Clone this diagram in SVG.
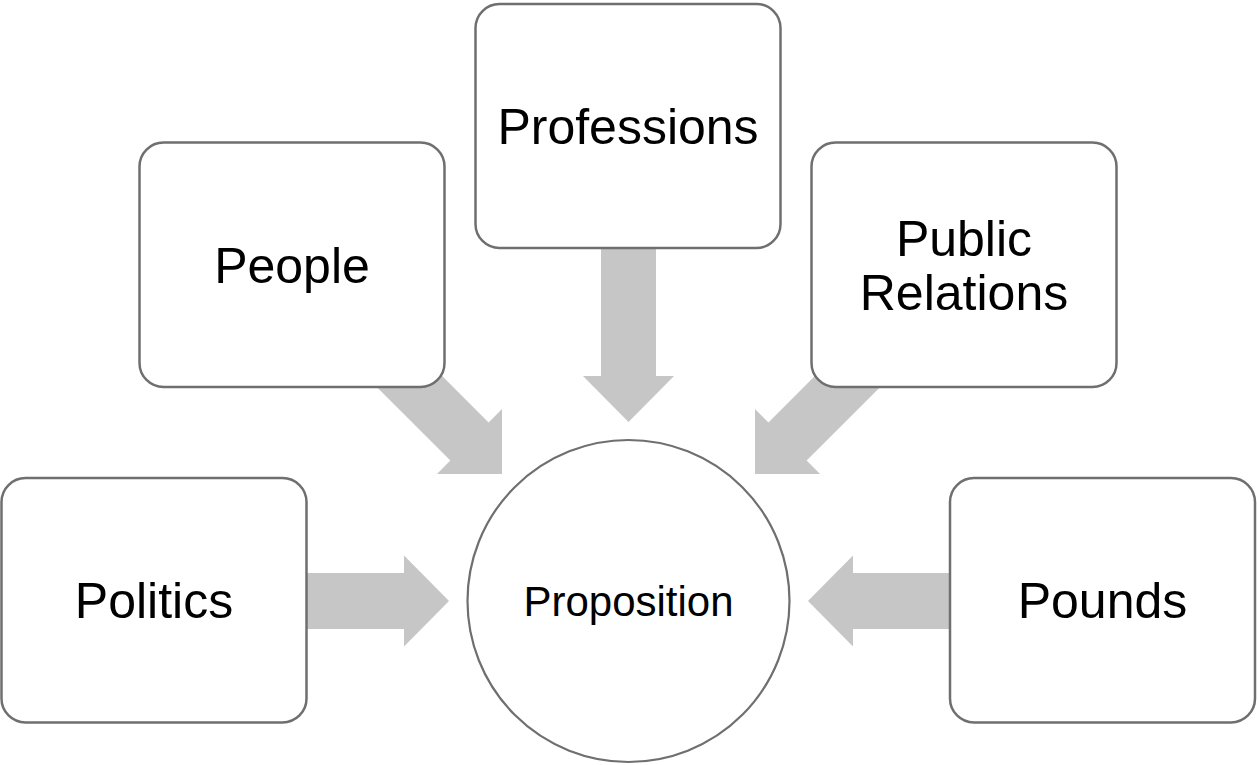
<svg xmlns="http://www.w3.org/2000/svg" xmlns:xlink="http://www.w3.org/1999/xlink" width="1258" height="765" viewBox="0 0 1258 765">
<style>
.box{fill:#ffffff;stroke:#6f6f6f;stroke-width:2.5}
.circ{fill:#ffffff;stroke:#6f6f6f;stroke-width:2.2}
.arr{fill:#c6c6c6;stroke:none}
.lbl{font-family:"Liberation Sans",Arial,sans-serif;font-size:50px;fill:#000000;text-anchor:middle}
.clbl{font-family:"Liberation Sans",Arial,sans-serif;font-size:42px;fill:#000000;text-anchor:middle}
</style>
<defs>
<polygon id="diagArrow" points="-160,-27 -46,-27 -46,-46 0,0 -46,46 -46,27 -160,27"/>
</defs>
<rect width="1258" height="765" fill="#ffffff"/>
<g id="connectors">
<polygon class="arr" points="300,573 404,573 404,555.5 449,601 404,646.5 404,629 300,629"/>
<polygon class="arr" points="957,573 853,573 853,555.5 808,601 853,646.5 853,629 957,629"/>
<polygon class="arr" points="601,240 656,240 656,376 674,376 628.5,422 583,376 601,376"/>
<use class="arr" xlink:href="#diagArrow" href="#diagArrow" transform="translate(502,474) rotate(45)"/>
<use class="arr" xlink:href="#diagArrow" href="#diagArrow" transform="translate(755,474) rotate(135)"/>
</g>
<g id="node-politics">
<rect class="box" x="1.5" y="478" width="305" height="244.5" rx="24" ry="24"/>
<text class="lbl" x="154" y="618">Politics</text>
</g>
<g id="node-people">
<rect class="box" x="139.5" y="142.5" width="305" height="244.5" rx="24" ry="24"/>
<text class="lbl" x="292" y="283">People</text>
</g>
<g id="node-professions">
<rect class="box" x="475.5" y="4" width="305" height="244" rx="24" ry="24"/>
<text class="lbl" x="628" y="144">Professions</text>
</g>
<g id="node-public-relations">
<rect class="box" x="811.5" y="142.5" width="305" height="244.5" rx="24" ry="24"/>
<text class="lbl" x="964" y="256">Public</text>
<text class="lbl" x="964" y="310">Relations</text>
</g>
<g id="node-pounds">
<rect class="box" x="950" y="478" width="305" height="244.5" rx="24" ry="24"/>
<text class="lbl" x="1102.5" y="618">Pounds</text>
</g>
<g id="node-proposition">
<circle class="circ" cx="628.5" cy="601" r="161"/>
<text class="clbl" x="628.5" y="616">Proposition</text>
</g>
</svg>
